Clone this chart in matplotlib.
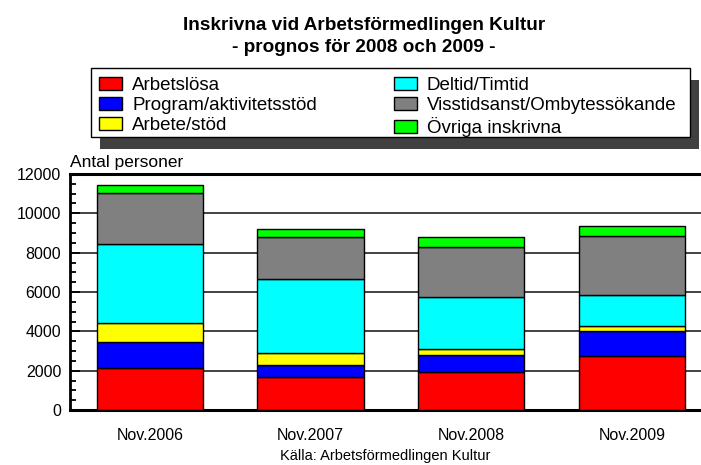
import matplotlib
matplotlib.use("Agg")
import matplotlib.pyplot as plt
from matplotlib.patches import Rectangle
from matplotlib.ticker import MultipleLocator
import numpy as np

plt.rcParams['font.family'] = ['Liberation Sans', 'DejaVu Sans']

categories = ["Nov.2006", "Nov.2007", "Nov.2008", "Nov.2009"]
series_names = ["Arbetslösa", "Program/aktivitetsstöd", "Arbete/stöd",
                "Deltid/Timtid", "Visstidsanst/Ombytessökande", "Övriga inskrivna"]
colors = ["#ff0000", "#0000ff", "#ffff00", "#00ffff", "#808080", "#00ff00"]

arbetslosa = [2150, 1670, 1940, 2750]
program = [1330, 610, 880, 1290]
arbete_stod = [950, 620, 290, 240]
deltid = [4000, 3740, 2660, 1560]
visstid = [2600, 2170, 2530, 3020]
ovriga = [400, 410, 500, 510]
values = [arbetslosa, program, arbete_stod, deltid, visstid, ovriga]

W, H = 701, 465
fig = plt.figure(figsize=(W / 100, H / 100), dpi=100)
ax = fig.add_axes([69.5 / W, (H - 410) / H, (W - 69.5) / W, (410 - 174) / H])

x = np.arange(len(categories))
bottom = np.zeros(len(categories))
handles = []
for name, vals, c in zip(series_names, values, colors):
    b = ax.bar(x, vals, 0.663, bottom=bottom, color=c, edgecolor="black",
               linewidth=1.0, label=name, zorder=3)
    handles.append(b)
    bottom += np.array(vals)

ax.set_xlim(-0.5, 3.43)
ax.set_ylim(0, 12000)
ax.yaxis.set_major_locator(MultipleLocator(2000))
ax.yaxis.set_minor_locator(MultipleLocator(500))
ax.grid(axis="y", which="major", color="#333333", linewidth=1.3, zorder=0)
ax.set_axisbelow(True)
ax.tick_params(axis="y", which="major", direction="in", length=7, width=1.3,
               labelsize=11.5, pad=6)
ax.tick_params(axis="y", which="minor", direction="in", length=4, width=1.3)
ax.tick_params(axis="x", length=0, labelsize=11.5, pad=13)
ax.set_xticks(x)
ax.set_xticklabels(categories)
ax.spines["right"].set_visible(False)
ax.spines["top"].set_linewidth(2.2)
ax.spines["bottom"].set_linewidth(2.2)
ax.spines["left"].set_linewidth(2.0)

ax.text(0, 1.015, "Antal personer", transform=ax.transAxes, fontsize=12.5,
        ha="left", va="bottom")

fig.text(364 / W, 1 - 26 / H, "Inskrivna vid Arbetsförmedlingen Kultur",
         ha="center", va="center", fontsize=13.7, fontweight="bold")
fig.text(364 / W, 1 - 47 / H, "- prognos för 2008 och 2009 -",
         ha="center", va="center", fontsize=13.7, fontweight="bold")
fig.text(385 / W, 1 - 456 / H, "Källa: Arbetsförmedlingen Kultur",
         ha="center", va="center", fontsize=10.5)

# legend box with shadow
lx0, lx1, ly0, ly1 = 91, 690, 68, 137
fig.patches.append(Rectangle(((lx0 + 9) / W, 1 - (ly1 + 12) / H),
                             (lx1 - lx0) / W, (ly1 - ly0) / H,
                             transform=fig.transFigure, facecolor="#404040",
                             edgecolor="none", zorder=1))
fig.patches.append(Rectangle((lx0 / W, 1 - ly1 / H), (lx1 - lx0) / W,
                             (ly1 - ly0) / H, transform=fig.transFigure,
                             facecolor="white", edgecolor="black",
                             linewidth=1.0, zorder=2))
leg = fig.legend(handles=handles, labels=series_names, ncol=2,
                 loc="upper left", bbox_to_anchor=(99 / W, 1 - 77 / H),
                 frameon=False, fontsize=13.5, handlelength=1.23,
                 handleheight=0.64, handletextpad=0.53, columnspacing=4.1,
                 labelspacing=0.16, borderpad=0, borderaxespad=0)
leg.set_zorder(3)

fig.savefig("out.png", dpi=100)
